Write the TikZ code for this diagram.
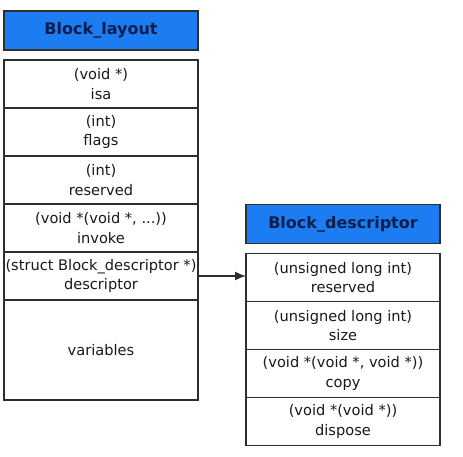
\documentclass[tikz,border=0pt]{standalone}
\usepackage{fontspec}
\setmainfont{DejaVu Sans}
\usetikzlibrary{positioning,arrows.meta}
\definecolor{hdrblue}{HTML}{1C7CF2}
\definecolor{hdrtext}{HTML}{0E1E4C}
\definecolor{edge}{HTML}{2E2E2E}
\begin{document}
\begin{tikzpicture}[x=1pt,y=-1pt,node distance=0pt,
  field/.style={rectangle,draw=edge,line width=1.5pt,fill=white,outer sep=0pt,inner sep=0pt,
    minimum width=194pt,minimum height=48pt,align=center,text=black!90,
    font=\fontsize{14.6}{19.5}\selectfont},
  header/.style={field,fill=hdrblue,minimum height=39pt,text=hdrtext,
    font=\fontsize{16}{19}\selectfont\bfseries}
  ]
    \useasboundingbox (0,0) rectangle (463,456);

    % Block_layout
    \node[header] (layout) at (101,30.5) {Block\_layout};
    \node[field] (isa) at (101,84) {(void *)\\isa};
    \node[field,below=of isa] (flags) {(int)\\flags};
    \node[field,below=of flags] (reserved) {(int)\\reserved};
    \node[field,below=of reserved] (invoke) {(void *(void *, ...))\\invoke};
    \node[field,below=of invoke] (descriptor) {(struct Block\_descriptor *)\\descriptor};
    \node[field,below=of descriptor,minimum height=100pt] (variables) {variables};

    % Block_descriptor
    \node[header] (desc) at (343,224) {Block\_descriptor};
    \node[field] (dreserved) at (343,277.5) {(unsigned long int)\\reserved};
    \node[field,below=of dreserved] (dsize) {(unsigned long int)\\size};
    \node[field,below=of dsize] (dcopy) {(void *(void *, void *))\\copy};
    \node[field,below=of dcopy] (ddispose) {(void *(void *))\\dispose};

    \draw[edge,line width=1.5pt,-{Latex[length=11pt,width=9pt]}] (descriptor.east) -- (descriptor.east -| dreserved.west);
\end{tikzpicture}
\end{document}
